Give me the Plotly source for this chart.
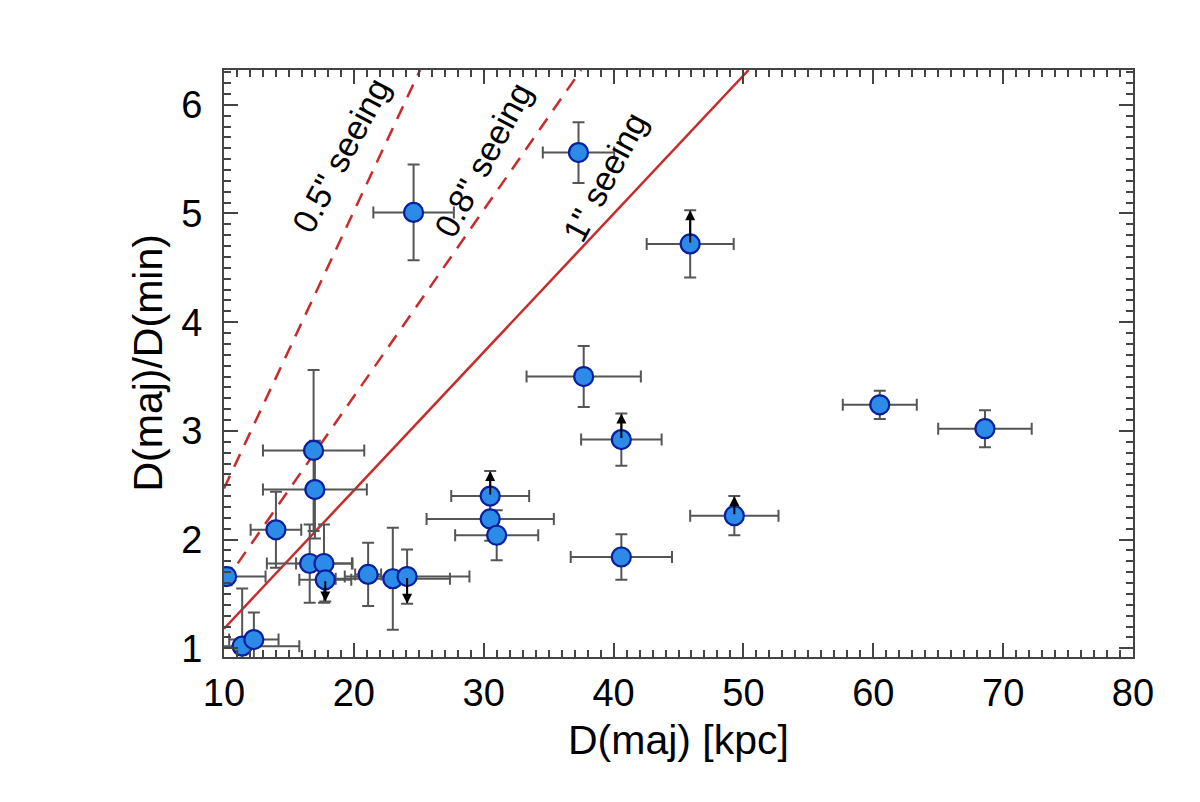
import plotly.graph_objects as go

# D(maj) in kpc and its error
d_maj = [10.2, 11.4, 12.3, 14.0, 16.9, 17.0, 16.6, 17.7, 17.8, 21.1, 23.0, 24.1,
         24.6, 30.5, 30.5, 31.0, 37.7, 37.3, 40.6, 40.6, 45.9, 49.3, 60.5, 68.6]
d_maj_err = [3.0, 4.4, 1.9, 1.95, 3.9, 4.0, 3.3, 2.15, 2.0, 1.0, 4.4, 4.8,
             3.1, 3.0, 4.9, 3.2, 4.4, 2.75, 3.1, 3.9, 3.35, 3.4, 2.85, 3.6]

# axis ratio D(maj)/D(min) and its error
ratio = [1.66, 1.02, 1.08, 2.09, 2.82, 2.46, 1.78, 1.78, 1.63, 1.68, 1.64, 1.66,
         5.01, 2.40, 2.19, 2.04, 3.50, 5.56, 2.92, 1.84, 4.72, 2.22, 3.24, 3.02]
ratio_err = [0.08, 0.53, 0.25, 0.35, 0.74, 0.45, 0.36, 0.36, 0.2, 0.29, 0.47, 0.25,
             0.44, 0.23, 0.2, 0.23, 0.28, 0.28, 0.24, 0.21, 0.31, 0.18, 0.13, 0.17]

# 1 = lower limit (arrow up), -1 = upper limit (arrow down)
limit = [0, 0, 0, 0, 0, 0, 0, 0, -1, 0, 0, -1,
         0, 1, 0, 0, 0, 0, 1, 0, 1, 1, 0, 0]

# seeing lines (end points)
seeing_names = ['0.5" seeing', '0.8" seeing', '1" seeing']
seeing_x = [[10, 25.1], [10, 37.5], [10, 50.4]]
seeing_y = [[2.47, 6.32], [1.60, 6.32], [1.18, 6.32]]
seeing_dash = ['14px,10px', '14px,10px', 'solid']
label_x = [19.0, 29.95, 39.3]
label_y = [5.54, 5.49, 5.34]

font = "Liberation Sans"
red = "#c92a2a"
bar_grey = "#555555"

fig = go.Figure()

for xs, ys, dash in zip(seeing_x, seeing_y, seeing_dash):
    fig.add_trace(go.Scatter(x=xs, y=ys, mode="lines",
                             line=dict(color=red, width=2.5, dash=dash),
                             hoverinfo="skip"))

fig.add_trace(go.Scatter(
    x=d_maj, y=ratio, mode="markers",
    marker=dict(size=19, color="#2c8be6", line=dict(color="#0a1f9e", width=2.2)),
    error_x=dict(type="data", array=d_maj_err, color=bar_grey, thickness=2, width=6),
    error_y=dict(type="data", array=ratio_err, color=bar_grey, thickness=2, width=6),
))

# limit arrows
for xv, yv, ev, lim in zip(d_maj, ratio, ratio_err, limit):
    if lim == 0:
        continue
    fig.add_annotation(x=xv, y=yv + lim * ev, ax=xv, ay=yv, xref="x", yref="y",
                       axref="x", ayref="y", text="", showarrow=True,
                       arrowhead=2, arrowsize=1, arrowwidth=2, arrowcolor="black")

for name, lx, ly in zip(seeing_names, label_x, label_y):
    fig.add_annotation(x=lx, y=ly, text=name, showarrow=False, textangle=-62,
                       font=dict(family=font, size=34, color="black"))

# axis titles
fig.add_annotation(x=0.5, y=-0.141, xref="paper", yref="paper", text="D(maj) [kpc]",
                   xanchor="center", yanchor="middle", showarrow=False,
                   font=dict(family=font, size=41, color="black"))
fig.add_annotation(x=-0.0847, y=0.5, xref="paper", yref="paper", text="D(maj)/D(min)",
                   xanchor="center", yanchor="middle", showarrow=False, textangle=-90,
                   font=dict(family=font, size=41, color="black"))

axis_style = dict(showgrid=False, zeroline=False, showline=True, linecolor="#444444",
                  linewidth=2, mirror="allticks", ticks="inside", ticklen=14,
                  tickwidth=2, tickcolor="#444444",
                  tickfont=dict(family=font, size=38, color="black"))

fig.update_xaxes(range=[10, 80], dtick=10, tick0=10, ticklabelstandoff=1,
                 minor=dict(dtick=1, ticks="inside", ticklen=7, tickcolor="#444444",
                            tickwidth=2),
                 **axis_style)
fig.update_yaxes(range=[0.92, 6.32], dtick=1, tick0=1, ticklabelstandoff=12,
                 minor=dict(dtick=0.1, ticks="inside", ticklen=7, tickcolor="#444444",
                            tickwidth=2),
                 **axis_style)

fig.update_layout(width=1200, height=802, showlegend=False,
                  plot_bgcolor="white", paper_bgcolor="white",
                  margin=dict(l=216, r=75, t=62, b=153))

fig.write_html("out.html")
